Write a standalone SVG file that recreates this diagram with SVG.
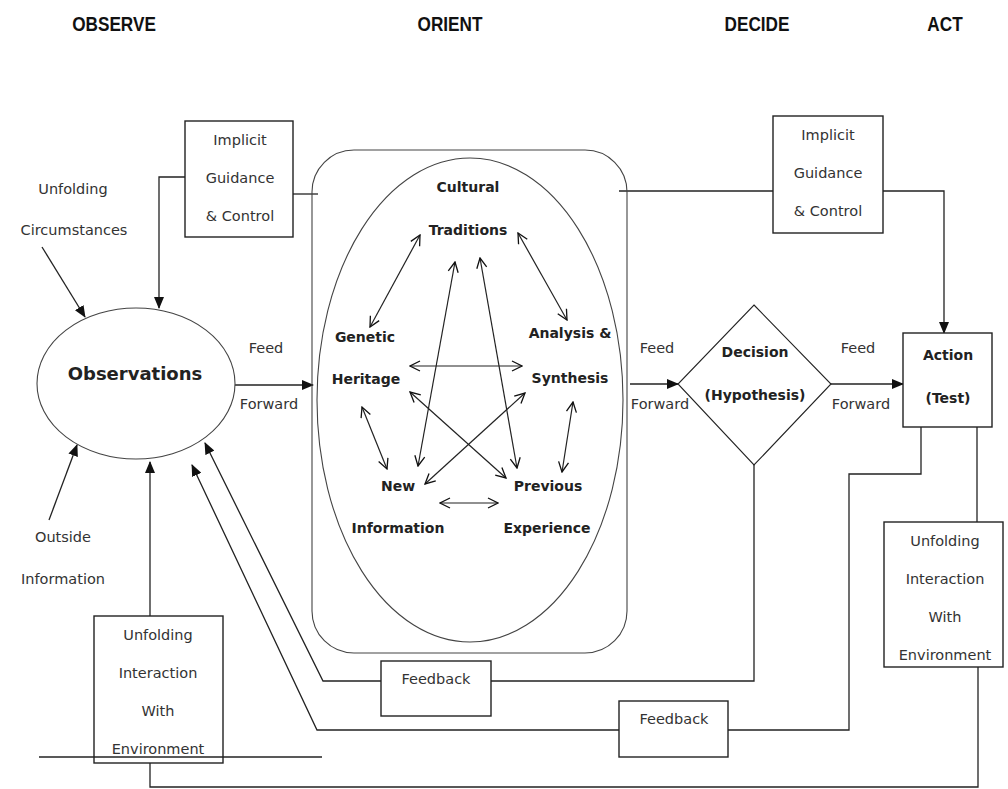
<svg xmlns="http://www.w3.org/2000/svg" width="1008" height="789" viewBox="0 0 1008 789">
<defs>
<marker id="ah" markerUnits="userSpaceOnUse" markerWidth="12" markerHeight="10" refX="11" refY="5" orient="auto"><path d="M0,0 L12,5 L0,10 Z" fill="#111"/></marker>
<marker id="ov" markerUnits="userSpaceOnUse" markerWidth="12" markerHeight="12" refX="11" refY="6" orient="auto-start-reverse"><path d="M1,1 L11,6 L1,11" fill="none" stroke="#111" stroke-width="1.3"/></marker>
<style>
.hd{font-family:"Liberation Sans",Arial,sans-serif;font-weight:bold;font-size:20px;fill:#111;text-anchor:middle}
.t{font-family:"DejaVu Sans",Verdana,sans-serif;font-size:14.5px;fill:#333;text-anchor:middle}
.b{font-family:"DejaVu Sans",Verdana,sans-serif;font-weight:bold;font-size:14px;fill:#222;text-anchor:middle}
.box{fill:#fff;stroke:#222;stroke-width:1.4}
.thin{fill:none;stroke:#444;stroke-width:1.1}
.c{fill:none;stroke:#222;stroke-width:1.3}
.oa{fill:none;stroke:#222;stroke-width:1.2;marker-start:url(#ov);marker-end:url(#ov)}
</style>
</defs>
<rect width="1008" height="789" fill="#fff"/>
<g id="headers">
<text class="hd" transform="translate(114,31) scale(0.86,1)">OBSERVE</text>
<text class="hd" transform="translate(450,31) scale(0.86,1)">ORIENT</text>
<text class="hd" transform="translate(757,31) scale(0.86,1)">DECIDE</text>
<text class="hd" transform="translate(945,31) scale(0.86,1)">ACT</text>
</g>
<g id="connectors">
<polyline class="c" points="185,177 159,177 159,308" marker-end="url(#ah)"/>
<line class="c" x1="293" y1="194" x2="318" y2="194"/>
<line class="c" x1="619" y1="191" x2="773" y2="191"/>
<polyline class="c" points="883,191 944,191 944,333" marker-end="url(#ah)"/>
<line class="c" x1="42" y1="247" x2="85" y2="317" marker-end="url(#ah)"/>
<line class="c" x1="49" y1="520" x2="77" y2="445" marker-end="url(#ah)"/>
<line class="c" x1="235" y1="385" x2="313" y2="385" marker-end="url(#ah)"/>
<line class="c" x1="630" y1="384" x2="678" y2="384" marker-end="url(#ah)"/>
<line class="c" x1="831" y1="384" x2="903" y2="384" marker-end="url(#ah)"/>
<polyline class="c" points="754,465 754,681 491,681"/>
<polyline class="c" points="381,681 323,681 205,443" marker-end="url(#ah)"/>
<polyline class="c" points="921,427 921,474 849,474 849,730 728,730"/>
<polyline class="c" points="619,730 317,730 192,465" marker-end="url(#ah)"/>
<line class="c" x1="977" y1="427" x2="977" y2="522"/>
<polyline class="c" points="978,667 978,787 150,787 150,763"/>
<line class="c" x1="150" y1="616" x2="150" y2="462" marker-end="url(#ah)"/>
<line class="c" x1="39" y1="757" x2="322" y2="757"/>
</g>
<g id="labels">
<text class="t" x="73" y="194">Unfolding</text>
<text class="t" x="74" y="235">Circumstances</text>
<text class="t" x="63" y="542">Outside</text>
<text class="t" x="63" y="584">Information</text>
<text class="t" x="266" y="353">Feed</text>
<text class="t" x="269" y="409">Forward</text>
<text class="t" x="657" y="353">Feed</text>
<text class="t" x="660" y="409">Forward</text>
<text class="t" x="858" y="353">Feed</text>
<text class="t" x="861" y="409">Forward</text>
</g>
<g id="observations">
<ellipse cx="136" cy="383.5" rx="99" ry="75.5" class="thin"/>
<text class="b" style="font-size:18px" x="135" y="380">Observations</text>
</g>
<g id="implicit-left">
<rect class="box" x="185" y="121" width="108" height="116"/>
<text class="t" x="240" y="145">Implicit</text>
<text class="t" x="240" y="183">Guidance</text>
<text class="t" x="240" y="221">&amp; Control</text>
</g>
<g id="orient">
<rect class="thin" x="312" y="150" width="315" height="503" rx="42"/>
<ellipse class="thin" cx="470" cy="400" rx="153" ry="242"/>
<text class="b" x="468" y="192">Cultural</text>
<text class="b" x="468" y="235">Traditions</text>
<text class="b" x="365" y="342">Genetic</text>
<text class="b" x="366" y="384">Heritage</text>
<text class="b" x="570" y="338">Analysis &amp;</text>
<text class="b" x="570" y="383">Synthesis</text>
<text class="b" x="398" y="491">New</text>
<text class="b" x="398" y="533">Information</text>
<text class="b" x="548" y="491">Previous</text>
<text class="b" x="547" y="533">Experience</text>
<g id="orient-arrows">
<line class="oa" x1="420" y1="235" x2="370" y2="327"/>
<line class="oa" x1="518" y1="233" x2="567" y2="320"/>
<line class="oa" x1="455" y1="262" x2="418" y2="466"/>
<line class="oa" x1="480" y1="258" x2="517" y2="468"/>
<line class="oa" x1="410" y1="366" x2="522" y2="366"/>
<line class="oa" x1="410" y1="392" x2="506" y2="478"/>
<line class="oa" x1="425" y1="484" x2="525" y2="393"/>
<line class="oa" x1="362" y1="407" x2="387" y2="469"/>
<line class="oa" x1="573" y1="402" x2="562" y2="472"/>
<line class="oa" x1="440" y1="503" x2="498" y2="503"/>
</g>
</g>
<g id="implicit-right">
<rect class="box" x="773" y="116" width="110" height="117"/>
<text class="t" x="828" y="140">Implicit</text>
<text class="t" x="828" y="178">Guidance</text>
<text class="t" x="828" y="216">&amp; Control</text>
</g>
<g id="decision">
<polygon class="box" points="754,305 831,384 754,465 678,384" style="stroke-width:1.1"/>
<text class="b" x="755" y="357">Decision</text>
<text class="b" x="755" y="400">(Hypothesis)</text>
</g>
<g id="action">
<rect class="box" x="903" y="333" width="89" height="94"/>
<text class="b" x="948" y="360">Action</text>
<text class="b" x="948" y="403">(Test)</text>
</g>
<g id="unfolding-right">
<rect class="box" x="884" y="522" width="119" height="145"/>
<text class="t" x="945" y="546">Unfolding</text>
<text class="t" x="945" y="584">Interaction</text>
<text class="t" x="945" y="622">With</text>
<text class="t" x="945" y="660">Environment</text>
</g>
<g id="unfolding-left">
<rect class="box" x="94" y="616" width="129" height="147" style="fill:none"/>
<text class="t" x="158" y="640">Unfolding</text>
<text class="t" x="158" y="678">Interaction</text>
<text class="t" x="158" y="716">With</text>
<text class="t" x="158" y="754">Environment</text>
</g>
<g id="feedback-1">
<rect class="box" x="381" y="661" width="110" height="55"/>
<text class="t" x="436" y="684">Feedback</text>
</g>
<g id="feedback-2">
<rect class="box" x="619" y="701" width="109" height="56"/>
<text class="t" x="674" y="724">Feedback</text>
</g>
</svg>
